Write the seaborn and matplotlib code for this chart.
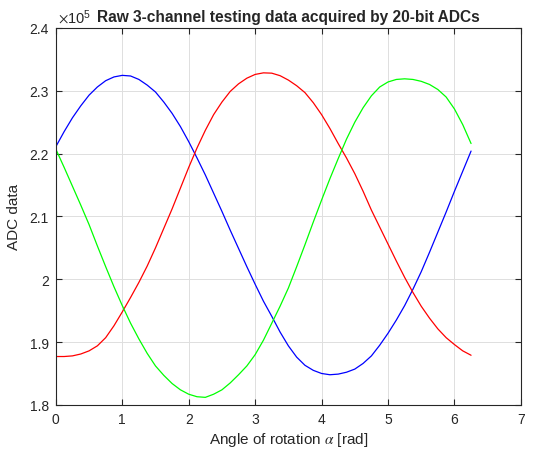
# Raw 3-channel ADC test data vs. rotation angle
import matplotlib
matplotlib.use("Agg")
import matplotlib.pyplot as plt
from matplotlib.ticker import FuncFormatter
import seaborn as sns
import pandas as pd

# angle of rotation [rad]
angle = [0.0, 0.125, 0.25, 0.375, 0.5, 0.625, 0.75, 0.875, 1.0, 1.125, 1.25, 1.375,
         1.5, 1.625, 1.75, 1.875, 2.0, 2.125, 2.25, 2.375, 2.5, 2.625, 2.75, 2.875,
         3.0, 3.125, 3.25, 3.375, 3.5, 3.625, 3.75, 3.875, 4.0, 4.125, 4.25, 4.375,
         4.5, 4.625, 4.75, 4.875, 5.0, 5.125, 5.25, 5.375, 5.5, 5.625, 5.75, 5.875,
         6.0, 6.125, 6.25]

# ADC readings, in units of 1e5
ch_blue = [2.211, 2.235, 2.257, 2.276, 2.293, 2.306, 2.316, 2.322, 2.3245, 2.3235,
           2.318, 2.309, 2.298, 2.282, 2.264, 2.243, 2.219, 2.193, 2.166, 2.137,
           2.108, 2.078, 2.049, 2.020, 1.992, 1.965, 1.941, 1.916, 1.894, 1.876,
           1.863, 1.855, 1.850, 1.848, 1.849, 1.852, 1.857, 1.866, 1.878, 1.895,
           1.914, 1.935, 1.958, 1.984, 2.012, 2.043, 2.075, 2.107, 2.140, 2.172,
           2.204]
ch_red = [1.877, 1.877, 1.878, 1.881, 1.886, 1.894, 1.907, 1.926, 1.948, 1.971,
          1.995, 2.021, 2.050, 2.081, 2.112, 2.145, 2.178, 2.209, 2.237, 2.262,
          2.282, 2.299, 2.311, 2.320, 2.326, 2.3285, 2.328, 2.324, 2.317, 2.308,
          2.297, 2.281, 2.262, 2.240, 2.216, 2.193, 2.168, 2.140, 2.110, 2.083,
          2.056, 2.029, 2.003, 1.979, 1.957, 1.938, 1.921, 1.907, 1.896, 1.886,
          1.879]
ch_green = [2.207, 2.178, 2.148, 2.118, 2.087, 2.053, 2.020, 1.988, 1.958, 1.930,
            1.905, 1.882, 1.862, 1.847, 1.834, 1.824, 1.817, 1.813, 1.812, 1.817,
            1.824, 1.835, 1.848, 1.862, 1.880, 1.903, 1.930, 1.957, 1.986, 2.020,
            2.055, 2.091, 2.126, 2.160, 2.192, 2.223, 2.250, 2.273, 2.292, 2.306,
            2.314, 2.318, 2.319, 2.318, 2.315, 2.310, 2.302, 2.290, 2.271, 2.246,
            2.216]

channels = {"ch1": ch_blue, "ch2": ch_red, "ch3": ch_green}
colors = {"ch1": "#0000ff", "ch2": "#ff0000", "ch3": "#00ff00"}

rows = []
for name, vals in channels.items():
    for a, v in zip(angle, vals):
        rows.append({"angle": a, "adc": v * 1e5, "channel": name})
df = pd.DataFrame(rows)

sns.set_style("ticks")
plt.rcParams["font.family"] = ["Liberation Sans", "DejaVu Sans"]
plt.rcParams["mathtext.fontset"] = "stix"

fig = plt.figure(figsize=(5.37, 4.52), dpi=100)
ax = fig.add_axes([0.104, 0.102, 0.866, 0.834])

sns.lineplot(data=df, x="angle", y="adc", hue="channel", palette=colors,
             linewidth=0.9, legend=False, ax=ax, sort=False)

ax.set_xlim(0, 7)
ax.set_ylim(1.8e5, 2.4e5)
ax.set_xticks(range(0, 8))
ax.set_yticks([1.8e5, 1.9e5, 2.0e5, 2.1e5, 2.2e5, 2.3e5, 2.4e5])
ax.yaxis.set_major_formatter(FuncFormatter(lambda v, p: "%g" % round(v / 1e5, 3)))
ax.text(0.004, 1.004, r"$\times\mathregular{10^5}$", transform=ax.transAxes,
        ha="left", va="bottom", fontsize=10.5, color="#262626")

ax.grid(True, color="#dedede", linewidth=0.7)
ax.set_axisbelow(True)
for s in ax.spines.values():
    s.set_color("#262626")
    s.set_linewidth(0.8)
ax.tick_params(direction="in", top=True, right=True, length=4, width=0.8,
               colors="#262626", labelsize=10, pad=5)

ax.set_xlabel(r"Angle of rotation $\alpha$ [rad]", fontsize=11, color="#262626", labelpad=3)
ax.set_ylabel("ADC data", fontsize=11, color="#262626", labelpad=6)
ax.set_title("Raw 3-channel testing data acquired by 20-bit ADCs",
             fontsize=11.2, fontweight="bold", pad=5)

fig.savefig("out.png", dpi=100)
